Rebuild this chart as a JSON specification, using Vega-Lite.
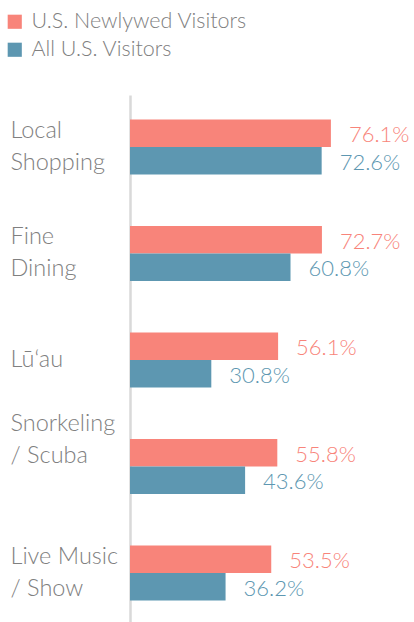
{
  "$schema": "https://vega.github.io/schema/vega-lite/v6.json",
  "width": 264,
  "height": 530,
  "autosize": {"type": "none"},
  "padding": {"left": 130, "top": 95, "right": 20, "bottom": 0},
  "background": "white",
  "config": {"font": "Lato", "view": {"stroke": null}},
  "data": {
    "values": [
      {"activity": "Local Shopping", "group": "U.S. Newlywed Visitors", "value": 0.761},
      {"activity": "Local Shopping", "group": "All U.S. Visitors", "value": 0.726},
      {"activity": "Fine Dining", "group": "U.S. Newlywed Visitors", "value": 0.727},
      {"activity": "Fine Dining", "group": "All U.S. Visitors", "value": 0.608},
      {"activity": "Lū‘au", "group": "U.S. Newlywed Visitors", "value": 0.561},
      {"activity": "Lū‘au", "group": "All U.S. Visitors", "value": 0.308},
      {"activity": "Snorkeling / Scuba", "group": "U.S. Newlywed Visitors", "value": 0.558},
      {"activity": "Snorkeling / Scuba", "group": "All U.S. Visitors", "value": 0.436},
      {"activity": "Live Music / Show", "group": "U.S. Newlywed Visitors", "value": 0.535},
      {"activity": "Live Music / Show", "group": "All U.S. Visitors", "value": 0.362}
    ]
  },
  "encoding": {
    "y": {
      "field": "activity",
      "type": "nominal",
      "sort": null,
      "scale": {"paddingInner": 0.484, "paddingOuter": 0.23},
      "axis": {
        "title": null,
        "domainColor": "#D9D9D9",
        "domainWidth": 2.5,
        "ticks": false,
        "tickSize": 0,
        "labelAlign": "left",
        "labelPadding": 120,
        "labelFont": "Lato",
        "labelFontWeight": 300,
        "labelFontSize": 23.5,
        "labelColor": "#808080",
        "labelLineHeight": 32,
        "labelBaseline": "middle",
        "labelLimit": 200,
        "labelOffset": {
          "condition": [
            {"test": "datum.value == 'Lū‘au'", "value": 0},
            {"test": "datum.value == 'Snorkeling / Scuba'", "value": -43}
          ],
          "value": -16
        },
        "labelExpr": "datum.value == 'Local Shopping' ? ['Local', 'Shopping'] : datum.value == 'Fine Dining' ? ['Fine', 'Dining'] : datum.value == 'Snorkeling / Scuba' ? ['Snorkeling', '/ Scuba'] : datum.value == 'Live Music / Show' ? ['Live Music', '/ Show'] : datum.value"
      }
    },
    "yOffset": {"field": "group", "type": "nominal", "sort": ["U.S. Newlywed Visitors", "All U.S. Visitors"]},
    "x": {"field": "value", "type": "quantitative", "scale": {"domain": [0, 1]}, "axis": null},
    "color": {
      "field": "group",
      "type": "nominal",
      "scale": {"domain": ["U.S. Newlywed Visitors", "All U.S. Visitors"], "range": ["#F8847A", "#5D97B1"]},
      "legend": {
        "title": null,
        "orient": "none",
        "legendX": -126,
        "legendY": -84,
        "symbolType": "square",
        "symbolSize": 200,
        "symbolStrokeWidth": 0,
        "labelFont": "Lato",
        "labelFontWeight": 300,
        "labelFontSize": 21.5,
        "labelColor": "#808080",
        "labelOffset": 6,
        "labelLimit": 400,
        "rowPadding": 5
      }
    }
  },
  "layer": [
    {"mark": {"type": "bar"}},
    {
      "mark": {"type": "text", "align": "left", "baseline": "middle", "dx": 18, "dy": 2, "fontSize": 22, "fontWeight": 300},
      "encoding": {"text": {"field": "value", "type": "quantitative", "format": ".1%"}}
    }
  ]
}
